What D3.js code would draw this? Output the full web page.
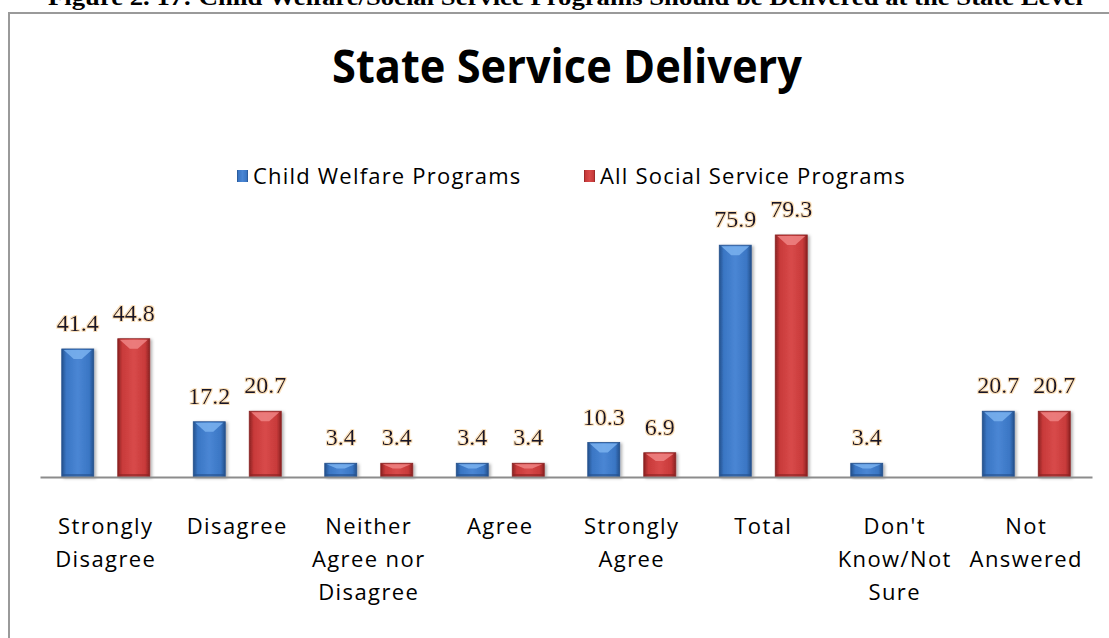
<!DOCTYPE html>
<html>
<head>
<meta charset="utf-8">
<script src="https://cdn.jsdelivr.net/npm/d3@7"></script>
<style>
  body { margin: 0; background: #fff; }
  svg { display: block; }
</style>
</head>
<body>
<div id="chart"></div>
<script>
const categories = ["Strongly Disagree", "Disagree", "Neither Agree nor Disagree", "Agree",
    "Strongly Agree", "Total", "Don't Know/Not Sure", "Not Answered"]
const tickLines = [["Strongly", "Disagree"], ["Disagree"], ["Neither", "Agree nor", "Disagree"], ["Agree"],
    ["Strongly", "Agree"], ["Total"], ["Don't", "Know/Not", "Sure"], ["Not", "Answered"]]
const seriesNames = ["Child Welfare Programs", "All Social Service Programs"]
const childWelfare = [41.4, 17.2, 3.4, 3.4, 10.3, 75.9, 3.4, 20.7]
const allSocial = [44.8, 20.7, 3.4, 3.4, 6.9, 79.3, null, 20.7]

const width = 1109, height = 638
const axisY = 477

const svg = d3.select('#chart')
    .append('svg')
    .attr('width', width)
    .attr('height', height)

// gradients for the bevelled bars
const defs = svg.append('defs')
const palettes = [
    { id: 'blue', dark: '#24508c', base: '#3a76c4', light: '#4a86d4', hi: '#7ab2ee' },
    { id: 'red', dark: '#8a2222', base: '#c83a3a', light: '#d84a4a', hi: '#ee8484' },
]
palettes.forEach(p => {
    const g = defs.append('linearGradient').attr('id', 'grad-' + p.id)
        .attr('x1', '0%').attr('x2', '100%').attr('y1', '0%').attr('y2', '0%')
    g.append('stop').attr('offset', '0%').attr('stop-color', p.dark)
    g.append('stop').attr('offset', '14%').attr('stop-color', p.base)
    g.append('stop').attr('offset', '50%').attr('stop-color', p.light)
    g.append('stop').attr('offset', '86%').attr('stop-color', p.base)
    g.append('stop').attr('offset', '100%').attr('stop-color', p.dark)
})
const shadow = defs.append('filter').attr('id', 'shadow')
    .attr('x', '-20%').attr('y', '-10%').attr('width', '150%').attr('height', '130%')
shadow.append('feDropShadow').attr('dx', 2).attr('dy', 1).attr('stdDeviation', 1.5)
    .attr('flood-color', '#000').attr('flood-opacity', 0.3)
const glow = defs.append('filter').attr('id', 'glow')
    .attr('x', '-20%').attr('y', '-30%').attr('width', '140%').attr('height', '160%')
glow.append('feMorphology').attr('in', 'SourceAlpha').attr('operator', 'dilate').attr('radius', 0.8).attr('result', 'd')
glow.append('feFlood').attr('flood-color', '#f0a840').attr('flood-opacity', 0.35)
glow.append('feComposite').attr('in2', 'd').attr('operator', 'in').attr('result', 'g')
const gm = glow.append('feMerge')
gm.append('feMergeNode').attr('in', 'g')
gm.append('feMergeNode').attr('in', 'SourceGraphic')

// caption above the chart box (cut off in the source)
svg.append('text')
    .attr('x', 48).attr('y', 5)
    .attr('textLength', 1035)
    .attr('lengthAdjust', 'spacingAndGlyphs')
    .attr('font-family', 'Liberation Serif, Times New Roman, serif')
    .attr('font-weight', 'bold')
    .attr('font-size', 24)
    .text('Figure 2. 17: Child Welfare/Social Service Programs Should be Delivered at the State Level')

// chart frame
svg.append('rect')
    .attr('x', 9).attr('y', 13)
    .attr('width', 1140).attr('height', 700)
    .attr('fill', 'none')
    .attr('stroke', '#9a9a9a')
    .attr('stroke-width', 2)

svg.append('text')
    .attr('x', 567).attr('y', 83)
    .attr('text-anchor', 'middle')
    .attr('textLength', 470)
    .attr('lengthAdjust', 'spacingAndGlyphs')
    .attr('font-family', 'Open Sans, sans-serif')
    .attr('font-weight', 'bold')
    .attr('font-size', 47)
    .text('State Service Delivery')

// legend
const legendX = [237, 584]
const legend = svg.append('g')
    .attr('font-family', 'Open Sans, sans-serif')
    .attr('font-size', 22)
seriesNames.forEach((name, i) => {
    legend.append('rect')
        .attr('x', legendX[i]).attr('y', 170)
        .attr('width', 11).attr('height', 12)
        .attr('fill', 'url(#grad-' + palettes[i].id + ')')
    legend.append('text')
        .attr('x', legendX[i] + 16).attr('y', 184)
        .attr('letter-spacing', 1.2)
        .text(name)
})

const x0 = d3.scaleBand()
    .domain(categories)
    .range([40, 1092])
    .paddingInner(0.331)
    .paddingOuter(0.1655)

const x1 = d3.scaleBand()
    .domain([0, 1])
    .range([0, x0.bandwidth()])
    .paddingInner(0.429)

const y = d3.scaleLinear()
    .domain([0, 90])
    .range([473.5, 473.5 - 90 * 3.008])

const rows = categories.map((c, i) => ({ cat: c, values: [childWelfare[i], allSocial[i]] }))
const bars = []
rows.forEach(r => r.values.forEach((v, s) => { if (v != null) bars.push({ cat: r.cat, s, v }) }))

const barG = svg.append('g')
const bar = barG.selectAll('g.bar')
    .data(bars)
    .join('g')
    .attr('class', 'bar')
    .attr('transform', d => `translate(${x0(d.cat) + x1(d.s)},0)`)

const bw = x1.bandwidth()
bar.append('rect')
    .attr('x', 0)
    .attr('y', d => y(d.v))
    .attr('width', bw)
    .attr('height', d => axisY - y(d.v))
    .attr('fill', d => 'url(#grad-' + palettes[d.s].id + ')')
    .attr('stroke', d => palettes[d.s].dark)
    .attr('stroke-width', 0.8)
    .attr('filter', 'url(#shadow)')

// top bevel highlight
bar.append('path')
    .attr('d', d => {
        const t = y(d.v)
        const h = Math.min(9, (axisY - t) * 0.3)
        return `M2,${t + 1}L${bw - 2},${t + 1}L${bw / 2 + 4},${t + 1 + h}L${bw / 2 - 4},${t + 1 + h}Z`
    })
    .attr('fill', d => palettes[d.s].hi)
    .attr('opacity', 0.85)

// bottom bevel
bar.append('rect')
    .attr('x', 1)
    .attr('y', axisY - 3)
    .attr('width', bw - 2)
    .attr('height', 2)
    .attr('fill', d => palettes[d.s].dark)
    .attr('opacity', 0.6)

// value labels
svg.append('g')
    .attr('font-family', 'Liberation Serif, Times New Roman, serif')
    .attr('font-size', 24)
    .attr('fill', '#15152a')
    .attr('text-anchor', 'middle')
    .selectAll('text')
    .data(bars)
    .join('text')
    .attr('x', d => x0(d.cat) + x1(d.s) + bw / 2)
    .attr('y', d => y(d.v) - 18)
    .attr('filter', 'url(#glow)')
    .text(d => d.v.toFixed(1))

// category axis
const xAxis = svg.append('g')
    .attr('transform', `translate(0,${axisY})`)
    .call(d3.axisBottom(x0).tickSize(0).tickSizeOuter(0).tickPadding(0))

xAxis.select('.domain')
    .attr('stroke', '#8c8c8c')
    .attr('stroke-width', 2)

xAxis.selectAll('.tick text')
    .attr('font-family', 'Open Sans, sans-serif')
    .attr('font-size', 22)
    .attr('fill', '#000')
    .attr('letter-spacing', 1.4)
    .attr('y', 57)
    .attr('dy', null)
    .text(null)
    .each(function (d) {
        const lines = tickLines[categories.indexOf(d)]
        d3.select(this).selectAll('tspan')
            .data(lines)
            .join('tspan')
            .attr('x', 0)
            .attr('dy', (l, i) => i === 0 ? 0 : 33)
            .text(l => l)
    })
</script>
</body>
</html>
